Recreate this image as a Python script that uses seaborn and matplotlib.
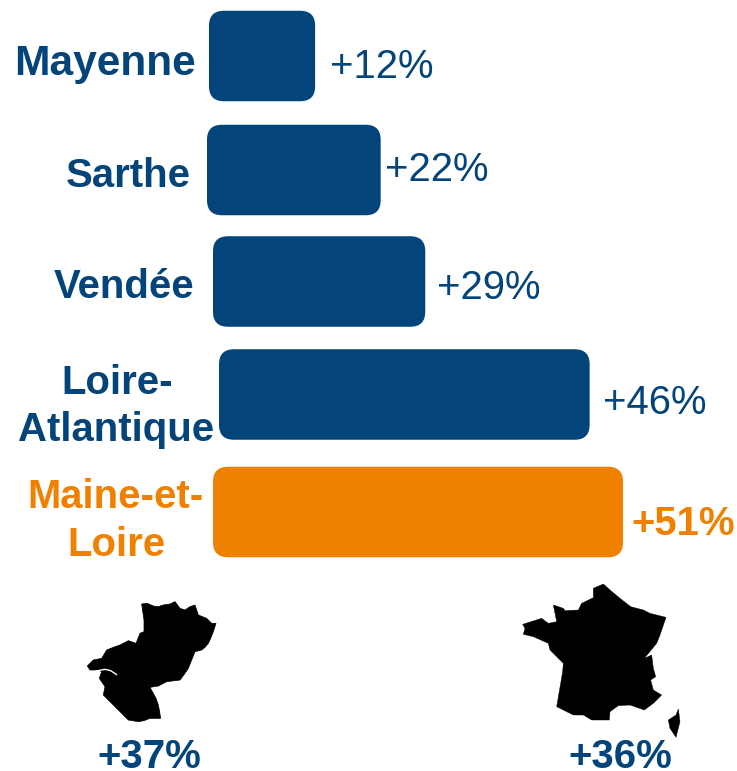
import matplotlib
matplotlib.use("Agg")
import matplotlib.pyplot as plt
from matplotlib.patches import FancyBboxPatch, Polygon
import pandas as pd
import seaborn as sns

# --- data ---
departements = ["Mayenne", "Sarthe", "Vendée", "Loire-Atlantique", "Maine-et-Loire"]
bar_lengths = [13.2, 21.6, 26.4, 46.1, 51.0]      # drawn length, in percentage points
growth_labels = ["+12%", "+22%", "+29%", "+46%", "+51%"]
summary_labels = ["+37%", "+36%"]

BLUE = "#03447A"
ORANGE = "#F08000"
colors = [BLUE, BLUE, BLUE, BLUE, ORANGE]

# --- layout (pixels of the 737x771 canvas) ---
W, H = 737, 771
PX_PER_UNIT = 8.04
bar_left_px = [209, 207, 213, 219, 213]
bar_shift_y = [0, 0, -2.5, -3.5, 0]
FS = 28.9

sns.set_theme(style="white")
plt.rcParams["font.family"] = ["Liberation Sans", "DejaVu Sans"]

fig = plt.figure(figsize=(W / 100, H / 100), dpi=100)
ax = fig.add_axes([0, 0, 1, 1])
df = pd.DataFrame({"dep": departements, "val": bar_lengths})
sns.barplot(data=df, y="dep", x="val", hue="dep", palette=colors, legend=False,
            width=90.5 / 114, ax=ax, dodge=False, saturation=1)
ax.set_xlim(0, W / PX_PER_UNIT)
# category 0 centred on y=56 px, 114 px per category
ax.set_ylim((H - 56) / 114, -56 / 114)
ax.axis("off")

# overlay in pixel coordinates
ov = fig.add_axes([0, 0, 1, 1], facecolor="none")
ov.set_xlim(0, W)
ov.set_ylim(H, 0)
ov.axis("off")

fig.canvas.draw()
to_px = ov.transData.inverted()
bars = sorted(ax.patches, key=lambda p: p.get_y())
for i, p in enumerate(bars):
    bb = p.get_window_extent().transformed(to_px)
    x0, x1 = min(bb.x0, bb.x1), max(bb.x0, bb.x1)
    y0, y1 = min(bb.y0, bb.y1), max(bb.y0, bb.y1)
    ov.add_patch(FancyBboxPatch((bar_left_px[i], y0 + bar_shift_y[i]), x1 - x0, y1 - y0,
                                boxstyle="round,pad=0,rounding_size=15",
                                fc=p.get_facecolor(), ec="none"))
    p.set_visible(False)


def put(s, x, y, color=BLUE, weight="normal", size=FS):
    ov.text(x, y, s, color=color, fontweight=weight, fontsize=size, ha="left", va="baseline")


put("Mayenne", 14, 75, weight="bold", size=30.6)
put("Sarthe", 65.5, 187, weight="bold")
put("Vendée", 53.5, 298, weight="bold")
put("Loire-", 61, 393.5, weight="bold")
put("Atlantique", 18.5, 441, weight="bold")
put("Maine-et-", 27, 507.5, color=ORANGE, weight="bold")
put("Loire", 67, 556, color=ORANGE, weight="bold")

label_xy = [(330, 78), (385, 181), (437, 299), (603, 414)]
for s, (x, y) in zip(growth_labels[:4], label_xy):
    put(s, x, y)
put(growth_labels[4], 631, 535, color=ORANGE, weight="bold")
put(summary_labels[0], 97.5, 767.5, weight="bold")
put(summary_labels[1], 568.5, 767.5, weight="bold")

# decorative silhouettes (outline traced in pixels)
pdl = [(215,42),(232,40),(250,48),(265,50),(280,45),(300,42),(315,35),(330,55),(345,60),(360,50),(375,45),
       (385,75),(410,85),(425,100),(438,100),(430,125),(422,145),(415,160),(405,172),(395,180),(375,185),
       (365,210),(355,235),(345,250),(330,270),(290,275),(265,288),(240,292),(258,325),(265,345),
       (268,360),(272,385),(240,385),(222,392),(205,395),(175,390),(155,370),(135,350),(115,330),(100,315),
       (105,290),(88,265),(95,245),(85,240),(60,240),(52,228),(70,210),(95,205),(110,180),(130,172),
       (150,165),(175,152),(198,160),(210,130),(222,125),(222,90)]
river = [(78,243),(105,238),(122,242),(140,254)]
france = [(250,40),(280,27),(300,45),(330,70),(362,95),(400,105),(420,115),(468,127),(450,180),(440,205),
          (403,250),(425,240),(430,280),(437,305),(422,315),(430,345),(455,360),(430,385),(403,405),
          (360,390),(325,392),(300,410),(298,435),(245,435),(220,420),(190,420),(140,395),(158,290),
          (160,265),(120,225),(115,205),(70,185),(40,178),(45,160),(38,148),(95,130),(115,145),(140,140),
          (130,90),(160,100),(165,107),(205,105),(215,85),(250,68)]
corsica = [(505,402),(510,440),(498,487),(480,460),(475,435),(498,420)]


def zoomed(points, ox, oy):
    return [(ox + a / 3, oy + b / 3) for a, b in points]


ov.add_patch(Polygon(zoomed(pdl, 70, 590), fc="black", ec="black", lw=0.5))
rx, ry = zip(*zoomed(river, 70, 590))
ov.plot(rx, ry, color="white", lw=1.0)
ov.add_patch(Polygon(zoomed(france, 510, 575), fc="black", ec="black", lw=0.3))
ov.add_patch(Polygon(zoomed(corsica, 510, 575), fc="black", ec="black", lw=0.3))
ov.set_xlim(0, W)
ov.set_ylim(H, 0)

fig.savefig("out.png", dpi=100)
